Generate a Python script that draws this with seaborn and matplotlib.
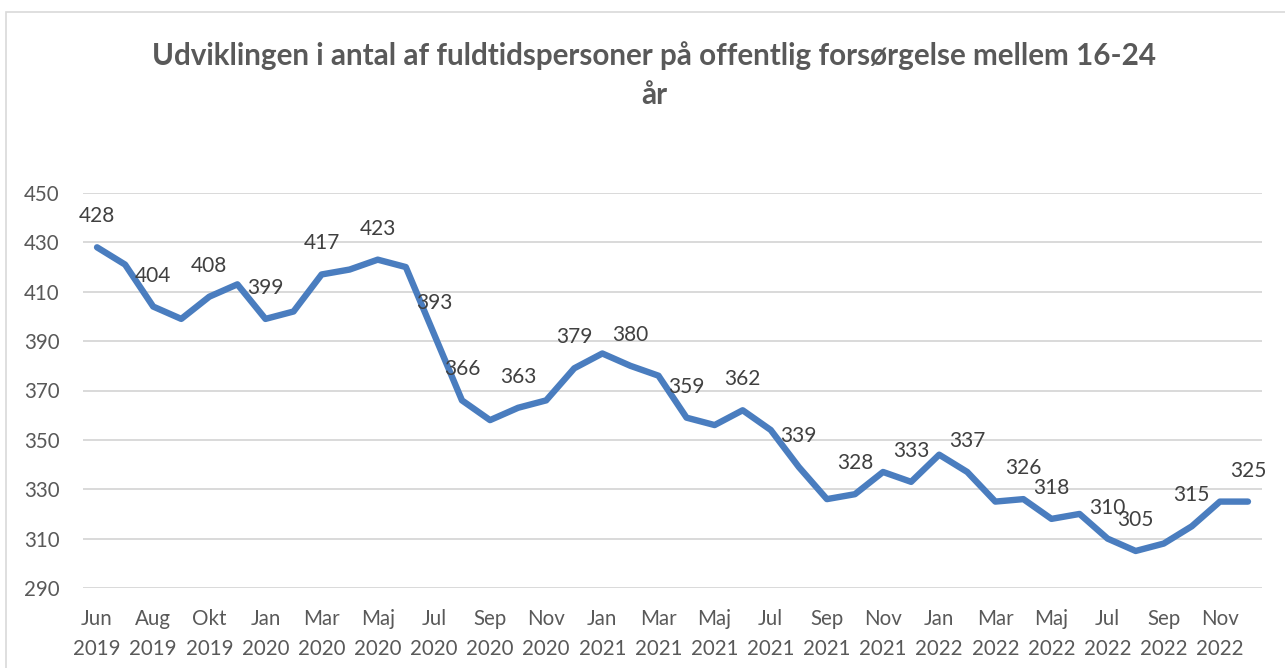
import numpy as np
import pandas as pd
import matplotlib
matplotlib.use("Agg")
import matplotlib.pyplot as plt
import seaborn as sns
from matplotlib.patches import Rectangle

# Monthly counts, Jun 2019 - Dec 2022 (Dec 2019 not in the series)
months = ["Jun", "Jul", "Aug", "Sep", "Okt", "Nov",
          "Jan", "Feb", "Mar", "Apr", "Maj", "Jun", "Jul", "Aug", "Sep", "Okt", "Nov", "Dec",
          "Jan", "Feb", "Mar", "Apr", "Maj", "Jun", "Jul", "Aug", "Sep", "Okt", "Nov", "Dec",
          "Jan", "Feb", "Mar", "Apr", "Maj", "Jun", "Jul", "Aug", "Sep", "Okt", "Nov", "Dec"]
years = [2019] * 6 + [2020] * 12 + [2021] * 12 + [2022] * 12
values = [428, 421, 404, 399, 408, 413,
          399, 402, 417, 419, 423, 420, 393, 366, 358, 363, 366, 379,
          385, 380, 376, 359, 356, 362, 354, 339, 326, 328, 337, 333,
          344, 337, 325, 326, 318, 320, 310, 305, 308, 315, 325, 325]
# points that carry a data label in the original chart
labelled = [0, 2, 4, 6, 8, 10, 12, 13, 15, 17, 19, 21, 23, 25, 27, 29,
            31, 33, 34, 36, 37, 39, 41]

title = "Udviklingen i antal af fuldtidspersoner på offentlig forsørgelse mellem 16-24\når"

df = pd.DataFrame({"idx": np.arange(len(values)), "value": values,
                   "label": [f"{m}\n{y}" for m, y in zip(months, years)]})

sns.set_theme(style="white")
plt.rcParams["font.family"] = ["Lato", "DejaVu Sans"]

W, H = 1285, 668
fig = plt.figure(figsize=(W / 100, H / 100), dpi=100)
ax = fig.add_axes([83 / W, (H - 588) / H, (1262 - 83) / W, (588 - 193) / H])

sns.lineplot(data=df, x="idx", y="value", ax=ax, color="#4a7dbf", linewidth=4.6,
             solid_capstyle="round", solid_joinstyle="round")

ax.set_xlim(-0.5, len(values) - 0.5)
ax.set_ylim(290, 450)
ax.set_yticks(np.arange(290, 451, 20))
ax.set_xticks(df["idx"][::2][:21])
ax.set_xticklabels(df["label"][::2][:21], linespacing=1.62)
ax.yaxis.grid(True, color="#d9d9d9", linewidth=1.4)
ax.xaxis.grid(False)
for s in ax.spines.values():
    s.set_visible(False)
ax.tick_params(axis="x", length=0, pad=15, labelsize=14.8, labelcolor="#595959")
ax.tick_params(axis="y", length=0, pad=17, labelsize=14.8, labelcolor="#595959")
ax.set_xlabel("")
ax.set_ylabel("")

for i in labelled:
    ax.annotate(str(values[i]), xy=(i, values[i]), xytext=(0, 31),
                textcoords="offset pixels", ha="center", va="center",
                fontsize=15, color="#404040")

fig.text(654 / W, 1 - 75 / H, title, ha="center", va="center", fontsize=21.3,
         fontweight="bold", color="#595959", linespacing=1.45)

fig.add_artist(Rectangle((6 / W, -0.1), 1.2, (H - 12) / H + 0.1, transform=fig.transFigure,
                         fill=False, edgecolor="#d9d9d9", linewidth=1.2))

fig.savefig("out.png", dpi=100)
